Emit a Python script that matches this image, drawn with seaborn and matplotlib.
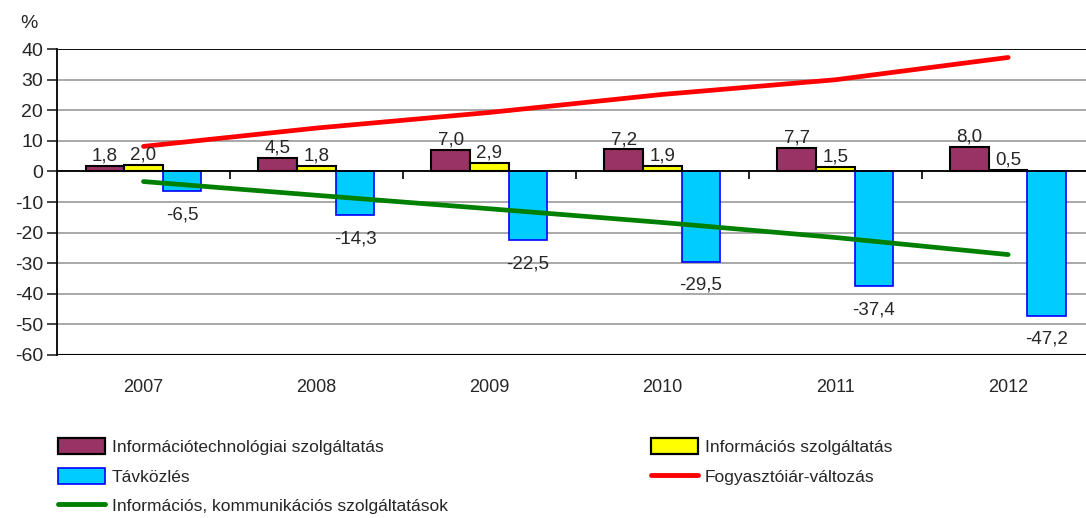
import matplotlib
matplotlib.use("Agg")
import matplotlib.pyplot as plt
import seaborn as sns
import pandas as pd
import numpy as np
from matplotlib.patches import Patch
from matplotlib.lines import Line2D

# Data
years = ["2007", "2008", "2009", "2010", "2011", "2012"]
it_services = [1.8, 4.5, 7.0, 7.2, 7.7, 8.0]
info_services = [2.0, 1.8, 2.9, 1.9, 1.5, 0.5]
telecom = [-6.5, -14.3, -22.5, -29.5, -37.4, -47.2]
consumer_prices = [8.2, 14.2, 19.3, 25.2, 30.0, 37.3]
ict_services = [-3.3, -7.8, -12.2, -16.7, -21.6, -27.2]

series_names = [
    "Információtechnológiai szolgáltatás",
    "Információs szolgáltatás",
    "Távközlés",
]
line_names = ["Fogyasztóiár-változás", "Információs, kommunikációs szolgáltatások"]

bar_colors = {"fill": ["#993366", "#FFFF00", "#00CCFF"], "edge": ["black", "black", "#0000FF"]}

sns.set_style("white")
plt.rcParams["font.family"] = ["Liberation Sans", "DejaVu Sans"]
plt.rcParams["axes.unicode_minus"] = False

df = pd.DataFrame(
    {
        "Év": years * 3,
        "Érték": it_services + info_services + telecom,
        "Sorozat": [series_names[0]] * 6 + [series_names[1]] * 6 + [series_names[2]] * 6,
    }
)

fig = plt.figure(figsize=(10.86, 5.18), dpi=100)
ax = fig.add_axes([0.0525, 0.315, 0.9475, 0.59])

sns.barplot(
    data=df, x="Év", y="Érték", hue="Sorozat", hue_order=series_names,
    palette=bar_colors["fill"], saturation=1, width=0.67, ax=ax, legend=False,
)

# Edge colours and value labels per series
for i, cont in enumerate(ax.containers):
    for bar in cont:
        bar.set_edgecolor(bar_colors["edge"][i])
        bar.set_linewidth(1.5 if i < 2 else 1.2)
    labels = [f"{v:.1f}".replace(".", ",") for v in cont.datavalues]
    ax.bar_label(cont, labels=labels, padding=(11 if i == 2 else 1), fontsize=13.5)

xpos = np.arange(len(years))
sns.lineplot(x=xpos, y=consumer_prices, color="#FF0000", lw=3.4, ax=ax)
sns.lineplot(x=xpos, y=ict_services, color="#008000", lw=3.4, ax=ax)

ax.set_ylim(-60, 40)
ax.set_xlim(-0.5, 5.45)
ax.set_yticks(range(-60, 41, 10))
ax.yaxis.grid(True, color="#999999", lw=1.2)
ax.set_axisbelow(True)
ax.axhline(0, color="black", lw=1.3, zorder=1.5)
ax.axhline(40, color="black", lw=1.3)
ax.axhline(-60, color="black", lw=1.5)
ax.vlines(np.arange(0.5, 5.5), -2.6, 0, color="black", lw=1.2)
for s in ["top", "right", "bottom"]:
    ax.spines[s].set_visible(False)
ax.spines["left"].set_color("black")
ax.spines["left"].set_linewidth(1.3)
ax.tick_params(axis="y", left=True, length=7, width=1.2, labelsize=14, pad=3)
ax.tick_params(axis="x", bottom=False, labelsize=13, pad=14)
ax.set_xlabel("")
ax.set_ylabel("")
fig.text(0.027, 0.955, "%", fontsize=14, ha="center", va="center")

handles = [
    Patch(facecolor=bar_colors["fill"][0], edgecolor="black", lw=1.6),
    Patch(facecolor=bar_colors["fill"][2], edgecolor="#0000FF", lw=1.2),
    Line2D([0], [0], color="#008000", lw=3.5),
    Patch(facecolor=bar_colors["fill"][1], edgecolor="black", lw=1.6),
    Line2D([0], [0], color="#FF0000", lw=3.5),
]
labels = [series_names[0], series_names[2], line_names[1], series_names[1], line_names[0]]
fig.legend(
    handles, labels, ncol=2, loc="upper left", bbox_to_anchor=(0.039, 0.185),
    frameon=False, fontsize=12.5, handlelength=2.7, handleheight=1.05,
    columnspacing=11.7, labelspacing=0.74, handletextpad=0.4,
)

fig.savefig("out.png", dpi=100)
plt.close(fig)
